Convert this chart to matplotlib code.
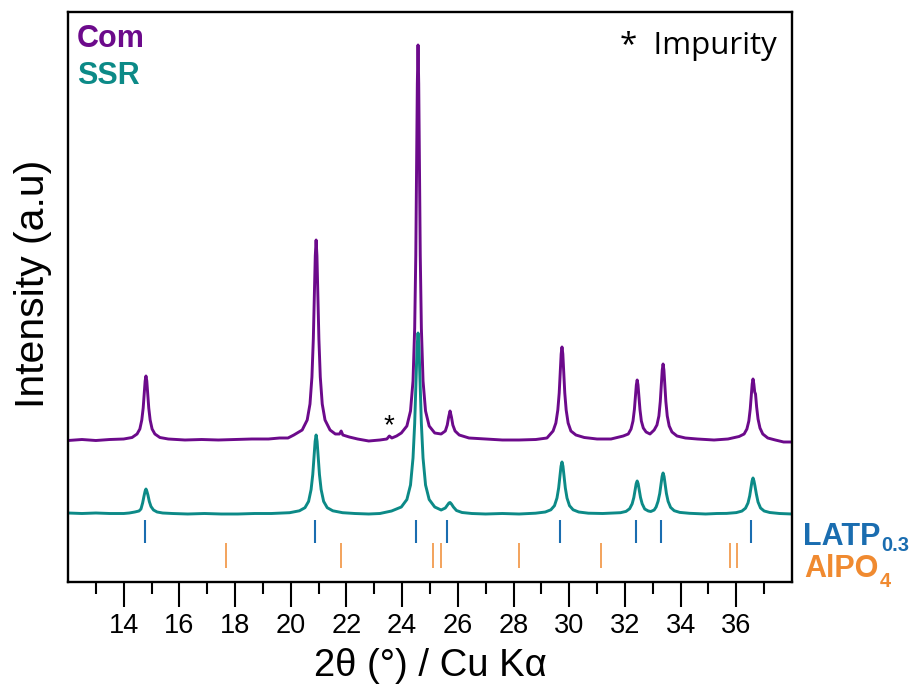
import matplotlib
matplotlib.use('Agg')
import matplotlib.pyplot as plt

'''XRD patterns: commercial (Com) vs solid state reaction (SSR) powder'''

# Com pattern, 2theta [deg] and intensity [a.u.]
com_tt = [12.0, 12.5, 13.0, 13.5, 14.0, 14.3, 14.48, 14.58, 14.65, 14.70, 14.74, 14.77, 14.80, 14.83, 14.86,
          14.90, 14.95, 15.02, 15.12, 15.3, 15.6, 16.2, 16.8, 17.4, 18.0, 18.6, 19.2, 19.6, 19.9, 20.11,
          20.41, 20.59, 20.69, 20.76, 20.81, 20.85, 20.88, 20.91, 20.94, 20.97, 21.01, 21.06, 21.13, 21.23,
          21.41, 21.6, 21.75, 21.81, 21.87, 22.1, 22.4, 22.8, 23.2, 23.45, 23.54, 23.63, 23.8, 23.97, 24.17,
          24.30, 24.39, 24.45, 24.49, 24.52, 24.545, 24.57, 24.595, 24.62, 24.65, 24.69, 24.75, 24.84, 24.97,
          25.17, 25.4, 25.55, 25.62, 25.67, 25.72, 25.77, 25.82, 25.9, 26.05, 26.4, 27.0, 27.6, 28.2, 28.8,
          29.2, 29.42, 29.52, 29.59, 29.64, 29.68, 29.71, 29.74, 29.77, 29.80, 29.84, 29.89, 29.96, 30.06,
          30.24, 30.54, 31.0, 31.5, 31.94, 32.12, 32.22, 32.29, 32.34, 32.38, 32.41, 32.44, 32.47, 32.50,
          32.54, 32.59, 32.66, 32.76, 32.9, 33.05, 33.15, 33.22, 33.27, 33.31, 33.34, 33.37, 33.40, 33.43,
          33.47, 33.52, 33.59, 33.69, 33.87, 34.17, 34.6, 35.2, 35.7, 36.1, 36.28, 36.38, 36.45, 36.50,
          36.54, 36.57, 36.60, 36.63, 36.66, 36.69, 36.73, 36.78, 36.85, 36.95, 37.13, 37.4, 37.7, 38.0]
com_int = [141.5, 142.5, 141.5, 142.5, 143, 144.5, 148, 153, 162, 174, 189, 201, 206, 201, 189,
           174, 162, 153, 148, 144.5, 143, 142, 142.5, 142, 142.5, 143, 143, 144, 144, 147,
           152, 162, 178, 205, 243, 291, 326, 342, 326, 291, 243, 205, 178, 162,
           152, 148, 148, 151, 147, 145, 143, 141, 142, 143, 146, 144, 146, 149, 156,
           171, 201, 254, 327, 416, 498, 537, 498, 416, 327, 254, 201, 171, 156,
           149, 148, 151, 157, 165, 171, 165, 157, 151, 147, 144, 143, 142, 142, 142.5,
           144, 151, 159, 172, 189, 211, 228, 235, 228, 211, 189, 172, 159, 151,
           147, 144.5, 143, 143, 146, 148, 153, 161, 172.5, 187, 197, 202, 197, 187,
           172.5, 161, 154, 150, 148, 152, 157, 166, 180.5, 198.5, 212, 218, 212, 198.5,
           180.5, 166, 156, 150, 146, 144, 143, 142, 143, 145.5, 148, 153, 161, 173,
           187, 198, 203, 198, 190, 188, 175, 163, 154, 148, 144, 142, 140, 140]

# SSR pattern
ssr_tt = [12.0, 12.5, 13.0, 13.5, 14.0, 14.2, 14.4, 14.55, 14.62, 14.68, 14.73, 14.77, 14.80, 14.83, 14.87,
          14.92, 14.98, 15.07, 15.2, 15.4, 15.75, 16.3, 16.9, 17.5, 18.1, 18.7, 19.3, 19.96, 20.31, 20.51,
          20.64, 20.73, 20.79, 20.84, 20.875, 20.91, 20.945, 20.98, 21.03, 21.09, 21.18, 21.31, 21.51, 21.86,
          22.3, 22.8, 23.2, 23.62, 23.97, 24.17, 24.30, 24.39, 24.45, 24.50, 24.535, 24.57, 24.605, 24.64,
          24.69, 24.75, 24.84, 24.97, 25.17, 25.4, 25.55, 25.63, 25.68, 25.72, 25.77, 25.84, 25.95, 26.15,
          26.5, 27.0, 27.6, 28.2, 28.79, 29.14, 29.34, 29.47, 29.56, 29.62, 29.67, 29.705, 29.74, 29.775,
          29.81, 29.86, 29.92, 30.01, 30.14, 30.34, 30.69, 31.2, 31.84, 32.04, 32.17, 32.26, 32.32, 32.37,
          32.405, 32.44, 32.475, 32.51, 32.56, 32.62, 32.71, 32.84, 32.93, 33.05, 33.12, 33.19, 33.25, 33.30,
          33.335, 33.37, 33.405, 33.44, 33.49, 33.55, 33.64, 33.77, 33.97, 34.32, 34.9, 35.3, 35.65, 36.0,
          36.2, 36.33, 36.42, 36.48, 36.53, 36.565, 36.60, 36.635, 36.67, 36.72, 36.78, 36.87, 37.0, 37.2,
          37.55, 38.0]
ssr_int = [69, 68.5, 69, 68.5, 68.5, 69, 70, 71, 73, 79, 86, 91, 93, 91, 87,
           80.5, 75.5, 72, 70, 69, 68.5, 68, 68.5, 68, 68, 68.5, 68.5, 69.3, 71.2, 74.3,
           80.6, 92.5, 107.5, 127, 140.7, 147, 140.7, 127, 107.5, 92.5, 80.6, 74.3, 71.2, 69.3,
           68.5, 68, 68.5, 71, 75, 82.5, 97, 124, 158.5, 203.75, 234.5, 249, 234.5, 203.75,
           158.5, 124, 97, 82.5, 75, 72, 74, 77, 79, 79.5, 78, 75, 71.5, 69.5,
           68.5, 68, 68.5, 68, 68.8, 70, 72.2, 76.3, 84, 94, 107, 115.8, 120, 115.8,
           107, 94, 84, 76.3, 72.2, 70, 68.8, 68.5, 69.3, 70.6, 73.3, 78.2, 84.5, 92.75,
           98.4, 101, 98.4, 92.75, 84.5, 78.2, 73, 71, 70.5, 72, 75, 80.7, 88.5, 98.75,
           105.7, 109, 105.7, 98.75, 88.5, 80.7, 74.6, 71.3, 69.6, 68.7, 68, 68.5, 68.6, 69.4,
           70.9, 73.8, 79, 86, 95, 101, 104, 101, 96, 88, 80, 74, 71, 69.5,
           68.5, 68]

# reference reflections
latp_pos = [14.78, 20.87, 24.50, 25.61, 29.67, 32.40, 33.30, 36.53]
alpo4_pos = [17.68, 21.81, 25.11, 25.40, 28.20, 31.15, 35.78, 36.03]
impurity_pos = 23.53

c_com = '#6c0a8b'
c_ssr = '#0c8a87'
c_latp = '#1a6db0'
c_alpo = '#f08a30'

plt.rcParams['font.family'] = ['Liberation Sans', 'DejaVu Sans']

fig = plt.figure(figsize=(9.2, 6.93), dpi=100)
ax = fig.add_axes([68 / 920, 111 / 693, 724 / 920, 570 / 693])

ax.plot(com_tt, com_int, color=c_com, lw=2.1, solid_joinstyle='round')
ax.plot(ssr_tt, ssr_int, color=c_ssr, lw=2.1, solid_joinstyle='round')

ax.vlines(latp_pos, 39, 62, color=c_latp, lw=1.5)
ax.vlines(alpo4_pos, 14, 39, color=c_alpo, lw=1.1)

ax.set_xlim(12, 38)
ax.set_ylim(0, 570)
ax.set_xticks(range(14, 37, 2))
ax.set_xticks(range(13, 38, 2), minor=True)
ax.set_yticks([])
ax.tick_params(axis='x', which='major', direction='out', length=18, width=1.5, labelsize=19.5, pad=4)
ax.tick_params(axis='x', which='minor', direction='out', length=8.5, width=1.5)
for s in ax.spines.values():
    s.set_linewidth(1.7)

ax.set_xlabel('2θ (°) / Cu Kα', fontsize=27.5, labelpad=7)
fig.text(33 / 920, 1 - 284 / 693, 'Intensity (a.u)', rotation=90, ha='center', va='center', fontsize=29.5)

# sample names
ax.text(12.33, 535, 'Com', color=c_com, fontsize=22, fontweight='bold', va='baseline')
ax.text(12.33, 498, 'SSR', color=c_ssr, fontsize=22, fontweight='bold', va='baseline')
ax.text(37.47, 528, '*  Impurity', fontsize=22.5, family=['Open Sans', 'DejaVu Sans'], ha='right', va='baseline')
ax.text(impurity_pos, 149, '*', fontsize=20, ha='center', va='baseline')

# reference labels on the right, subscripts placed right after the main text
lab_latp = ax.text(38.4, 37, 'LATP', color=c_latp, fontsize=22, fontweight='bold', va='baseline', clip_on=False)
lab_alpo = ax.text(38.43, 5, 'AlPO', color=c_alpo, fontsize=22, fontweight='bold', va='baseline', clip_on=False)
fig.canvas.draw()
renderer = fig.canvas.get_renderer()
for lab, sub, drop, col in [(lab_latp, '0.3', 6, c_latp), (lab_alpo, '4', 10, c_alpo)]:
    bb = lab.get_window_extent(renderer)
    y0 = ax.transData.transform((0, lab.get_position()[1]))[1]
    fig.text((bb.x1 + 1) / 920, (y0 - drop) / 693, sub, color=col, fontsize=14.5,
             fontweight='bold', va='baseline')

fig.savefig('out.png', dpi=100)
